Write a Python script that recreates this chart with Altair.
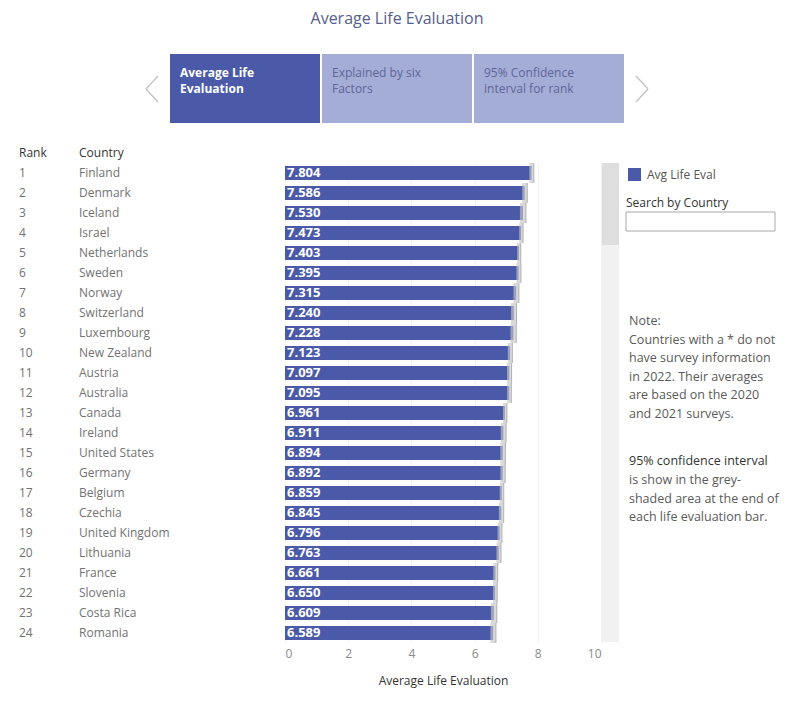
import altair as alt
import pandas as pd

ranks = list(range(1, 25))
countries = ["Finland", "Denmark", "Iceland", "Israel", "Netherlands", "Sweden",
             "Norway", "Switzerland", "Luxembourg", "New Zealand", "Austria",
             "Australia", "Canada", "Ireland", "United States", "Germany",
             "Belgium", "Czechia", "United Kingdom", "Lithuania", "France",
             "Slovenia", "Costa Rica", "Romania"]
scores = [7.804, 7.586, 7.530, 7.473, 7.403, 7.395, 7.315, 7.240, 7.228, 7.123,
          7.097, 7.095, 6.961, 6.911, 6.894, 6.892, 6.859, 6.845, 6.796, 6.763,
          6.661, 6.650, 6.609, 6.589]
ci_low = [7.733, 7.506, 7.434, 7.411, 7.346, 7.322, 7.229, 7.153, 7.136, 7.051,
          7.024, 7.028, 6.898, 6.826, 6.813, 6.815, 6.795, 6.769, 6.725, 6.690,
          6.589, 6.585, 6.515, 6.502]
ci_high = [7.875, 7.667, 7.625, 7.535, 7.460, 7.468, 7.402, 7.328, 7.320, 7.195,
           7.170, 7.162, 7.024, 6.996, 6.975, 6.969, 6.923, 6.921, 6.867, 6.836,
           6.733, 6.715, 6.703, 6.676]
tick_values = [0, 2, 4, 6, 8, 10]

tab_labels = [["Average Life", "Evaluation"], ["Explained by six", "Factors"],
              ["95% Confidence", "interval for rank"]]
note_lines = ["Note:", "Countries with a * do not", "have survey information",
              "in 2022. Their averages", "are based on the 2020",
              "and 2021 surveys."]
ci_lines = ["95% confidence interval", "is show in the grey-",
            "shaded area at the end of", "each life evaluation bar."]

FONT = "Open Sans"
BLUE = "#4a5aa8"
LIGHT = "#a4add6"

df = pd.DataFrame({"Rank": ranks, "Country": countries, "Score": scores,
                   "Low": ci_low, "High": ci_high})
df["Label"] = df["Score"].map(lambda v: f"{v:.3f}")

one = pd.DataFrame({"a": [0]})

yenc = alt.Y("Country:N", sort=countries, axis=None,
             scale=alt.Scale(paddingInner=0.3, paddingOuter=0.15))
xscale = alt.Scale(domain=[0, 10], nice=False)

base = alt.Chart(df)

# scrollbar (behind)
scroll = alt.Chart(one).mark_rect(color="#f1f1f1").encode(
    x=alt.value(317), x2=alt.value(334), y=alt.value(0), y2=alt.value(479))
thumb = alt.Chart(one).mark_rect(color="#dedede").encode(
    x=alt.value(317), x2=alt.value(334), y=alt.value(0), y2=alt.value(82))

bars = base.mark_bar(color=BLUE).encode(
    x=alt.X("Score:Q", scale=xscale,
            axis=alt.Axis(values=tick_values, title="Average Life Evaluation",
                          grid=True, gridColor="#f2f2f2", domain=False,
                          ticks=False, labelColor="#8a8a8a", labelFontSize=12,
                          labelPadding=5, titleFontSize=12, titleColor="#333333",
                          titleFontWeight="normal", titlePadding=16,
                          labelFont=FONT, titleFont=FONT)),
    y=yenc)

ci = base.mark_bar(size=20, color="#c4c4c4", opacity=0.65).encode(
    x="Low:Q", x2="High:Q", y=yenc)
ci_edge = base.mark_tick(size=20, thickness=1, color="#9a9a9a").encode(
    x="High:Q", y=yenc)

bar_text = base.mark_text(align="left", baseline="middle", color="white",
                          fontSize=13, fontWeight="bold", font=FONT).encode(
    x=alt.value(2), y=yenc, text="Label:N")

rank_text = base.mark_text(align="left", baseline="middle", color="#727272",
                           fontSize=12, font=FONT).encode(
    x=alt.value(-266), y=yenc, text="Rank:N")
country_text = base.mark_text(align="left", baseline="middle", color="#727272",
                              fontSize=12, font=FONT).encode(
    x=alt.value(-206), y=yenc, text="Country:N")

def stext(txt, x, y, size=12, color="#333333", weight="normal", align="left",
          lh=None):
    kw = dict(align=align, baseline="middle", fontSize=size, color=color,
              fontWeight=weight, font=FONT)
    if lh is not None:
        kw["lineHeight"] = lh
    return alt.Chart(one).mark_text(**kw).encode(
        x=alt.value(x), y=alt.value(y), text=alt.value(txt))

headers = stext("Rank", -266, -10) + stext("Country", -206, -10)

title = stext("Average Life Evaluation", 112, -144, size=16, color="#56608c",
              align="center")

tabs = []
tab_x = [(-115, 35), (37, 187), (189, 339)]
for i, (x1, x2) in enumerate(tab_x):
    tabs.append(alt.Chart(one).mark_rect(color=BLUE if i == 0 else LIGHT).encode(
        x=alt.value(x1), x2=alt.value(x2), y=alt.value(-109), y2=alt.value(-40)))
    tabs.append(stext(tab_labels[i], x1 + 10, -90,
                      color="white" if i == 0 else "#5f6696",
                      weight="bold" if i == 0 else "normal", lh=16))

arrows = []
for (xa, xb) in [(-127, -139), (351, 363)]:
    arrows.append(alt.Chart(one).mark_rule(color="#c6c6c6", strokeWidth=1.5).encode(
        x=alt.value(xa), x2=alt.value(xb), y=alt.value(-87), y2=alt.value(-74)))
    arrows.append(alt.Chart(one).mark_rule(color="#c6c6c6", strokeWidth=1.5).encode(
        x=alt.value(xb), x2=alt.value(xa), y=alt.value(-74), y2=alt.value(-61)))

legend_sq = alt.Chart(one).mark_rect(color=BLUE).encode(
    x=alt.value(343), x2=alt.value(356), y=alt.value(5), y2=alt.value(18))
legend_txt = stext("Avg Life Eval", 362, 12, color="#555555")
search_txt = stext("Search by Country", 341, 40, color="#333333")
box = alt.Chart(one).mark_rect(fill="white", stroke="#aaaaaa", strokeWidth=1).encode(
    x=alt.value(341), x2=alt.value(490), y=alt.value(49), y2=alt.value(68))

note = stext(note_lines, 344, 158, size=12.5, color="#5a5a5a", lh=18.6)
ci_note1 = stext(ci_lines[0], 344, 298, size=12.5, color="#333333")
ci_note2 = stext(ci_lines[1:], 344, 317, size=12.5, color="#5a5a5a", lh=18.6)

chart = alt.layer(
    scroll, thumb, bars, ci, ci_edge, bar_text, rank_text, country_text,
    headers, title, *tabs, *arrows, legend_sq, legend_txt, search_txt, box,
    note, ci_note1, ci_note2
).properties(
    width=316, height=480,
    autosize=alt.AutoSizeParams(type="none"),
    padding={"left": 277, "top": 155, "right": 185, "bottom": 58},
    background="white",
).configure_view(stroke=None)

chart.save("out.html", embed_options={"renderer": "svg", "actions": False})
